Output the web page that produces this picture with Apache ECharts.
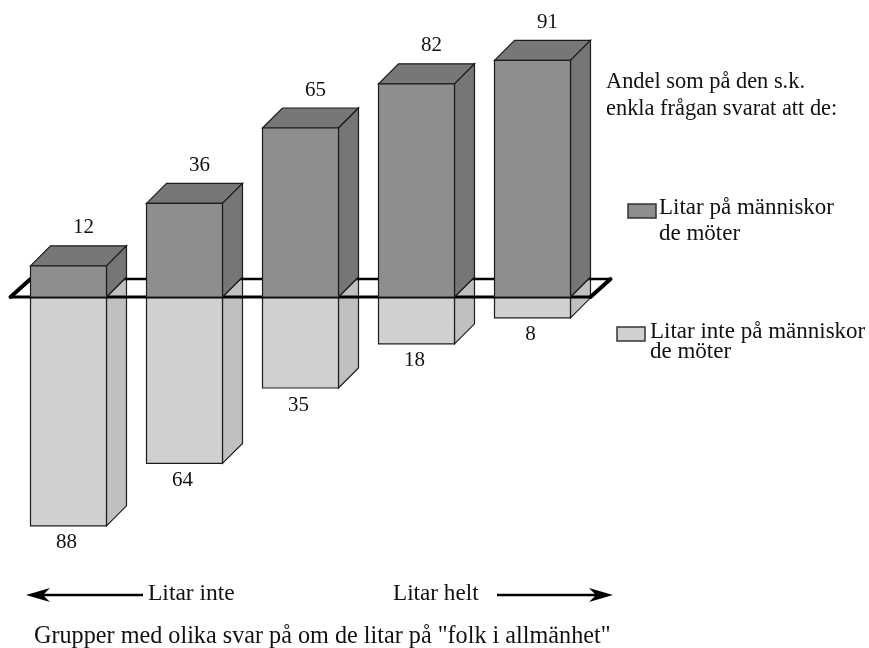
<!DOCTYPE html>
<html>
<head>
<meta charset="utf-8">
<style>
  html, body { margin: 0; padding: 0; background: #fff; }
  #chart { width: 869px; height: 648px; }
</style>
<script src="https://cdn.jsdelivr.net/npm/echarts@6/dist/echarts.min.js"></script>
</head>
<body>
<div id="chart"></div>
<script>
// values
const groups = ['1', '2', '3', '4', '5'];
const litarPa = [12, 36, 65, 82, 91];
const litarInte = [88, 64, 35, 18, 8];

const FONT = '"Liberation Serif", serif';
const DEPTH = 20; // 3d offset of the bars

function box(api, value, front, side, top, labelDx, labelDy) {
  const x = api.value(0);
  const c0 = api.coord([x, 0]);
  const c1 = api.coord([x, value]);
  const w = api.size([1, 0])[0] * 0.655;
  const l = c0[0] - w / 2;
  const r = c0[0] + w / 2;
  const upper = value > 0;
  const yT = upper ? c1[1] : c0[1];
  const yB = upper ? c0[1] : c1[1];
  const line = { stroke: '#1c1c1c', lineWidth: 1.2 };
  const children = [];
  if (top) {
    children.push({
      type: 'polygon',
      shape: { points: [[l, yT], [l + DEPTH, yT - DEPTH], [r + DEPTH, yT - DEPTH], [r, yT]] },
      style: Object.assign({ fill: top }, line)
    });
  }
  children.push({
    type: 'polygon',
    shape: { points: [[r, yT], [r + DEPTH, yT - DEPTH], [r + DEPTH, yB - DEPTH], [r, yB]] },
    style: Object.assign({ fill: side }, line)
  });
  children.push({
    type: 'rect',
    shape: { x: l, y: yT, width: w, height: yB - yT },
    style: Object.assign({ fill: front }, line)
  });
  children.push({
    type: 'text',
    style: {
      text: String(Math.abs(value)),
      x: c0[0] + labelDx,
      y: (upper ? yT - DEPTH : yB) + labelDy,
      font: '21px ' + FONT,
      fill: '#111',
      align: 'center',
      verticalAlign: 'middle'
    }
  });
  return { type: 'group', children: children };
}

function renderUpper(params, api) {
  return box(api, api.value(1), '#8e8e8e', '#767676', '#777777', 15, -18);
}

function renderLower(params, api) {
  return box(api, -api.value(1), '#d0d0d0', '#c0c0c0', null, -2, 17);
}

// the floor the bars stand on, its short sides are drawn heavier
function renderPlane(params, api) {
  const cs = params.coordSys;
  const y = api.coord([0, 0])[1];
  const xL = cs.x;
  const xR = cs.x + cs.width;
  const edge = (x1, y1, x2, y2, lw) => ({
    type: 'line',
    shape: { x1: x1, y1: y1, x2: x2, y2: y2 },
    style: { stroke: '#000', lineWidth: lw, lineCap: 'round' }
  });
  return {
    type: 'group',
    children: [
      edge(xL, y, xR, y, 3),
      edge(xL + 20, y - 18, xR + 20, y - 18, 2.6),
      edge(xL, y, xL + 20, y - 18, 4),
      edge(xR, y, xR + 20, y - 18, 4)
    ]
  };
}

const chart = echarts.init(document.getElementById('chart'));

function txt(x, y, text, size, lh) {
  return {
    type: 'text',
    x: x,
    y: y,
    style: { text: text, font: size + 'px ' + FONT, lineHeight: lh, fill: '#111', verticalAlign: 'middle' }
  };
}

function swatch(x, y, fill) {
  return {
    type: 'rect',
    shape: { x: x, y: y, width: 28, height: 14 },
    style: { fill: fill, stroke: '#333', lineWidth: 1.5 }
  };
}

function arrow(x1, x2, y) {
  const dir = x2 > x1 ? 1 : -1;
  return [
    {
      type: 'line',
      shape: { x1: x1, y1: y, x2: x2 - dir * 12, y2: y },
      style: { stroke: '#000', lineWidth: 2.4 }
    },
    {
      type: 'polygon',
      shape: {
        points: [[x2, y], [x2 - dir * 24, y - 7], [x2 - dir * 17, y], [x2 - dir * 24, y + 7]]
      },
      style: { fill: '#000' }
    }
  ];
}

chart.setOption({
  animation: false,
  backgroundColor: '#fff',
  grid: { left: 10.5, width: 580, top: 37, height: 520 },
  xAxis: { type: 'category', data: groups, show: false },
  yAxis: { type: 'value', min: -100, max: 100, show: false },
  series: [
    {
      type: 'custom',
      name: 'Litar inte på människor de möter',
      data: litarInte.map((v, i) => [i, v]),
      renderItem: renderLower,
      clip: false,
      z: 1
    },
    {
      type: 'custom',
      data: [[0, 0]],
      renderItem: renderPlane,
      clip: false,
      silent: true,
      z: 2
    },
    {
      type: 'custom',
      name: 'Litar på människor de möter',
      data: litarPa.map((v, i) => [i, v]),
      renderItem: renderUpper,
      clip: false,
      z: 3
    }
  ],
  graphic: [
    txt(606, 96, 'Andel som på den s.k.\nenkla frågan svarat att de:', 22.4, 27),
    swatch(628, 204, '#8e8e8e'),
    txt(659, 221, 'Litar på människor\nde möter', 23, 26),
    swatch(617, 327, '#d0d0d0'),
    txt(650, 342, 'Litar inte på människor\nde möter', 23, 20),
    txt(148, 594, 'Litar inte', 23.5, 20),
    txt(393, 594, 'Litar helt', 23.2, 20),
    txt(34, 637, 'Grupper med olika svar på om de litar på "folk i allmänhet"', 24.2, 20)
  ].concat(arrow(143, 26, 595), arrow(497, 613, 595))
});
</script>
</body>
</html>
